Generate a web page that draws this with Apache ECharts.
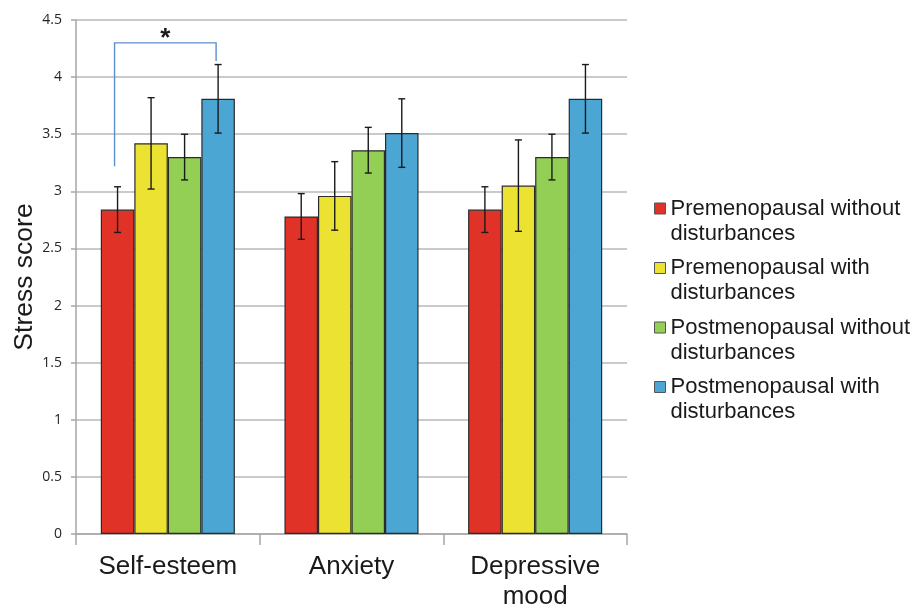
<!DOCTYPE html>
<html>
<head>
<meta charset="utf-8">
<script src="https://cdn.jsdelivr.net/npm/echarts@6/dist/echarts.min.js"></script>
<style>
html,body{margin:0;padding:0;background:#fff;}
#chart{width:921px;height:607px;}
</style>
</head>
<body>
<div id="chart"></div>
<script>
// ---- data ----
var categories = ['Self-esteem', 'Anxiety', 'Depressive\nmood'];
var seriesNames = [
  'Premenopausal without\ndisturbances',
  'Premenopausal with\ndisturbances',
  'Postmenopausal without\ndisturbances',
  'Postmenopausal with\ndisturbances'
];
var preWithout = [2.84, 2.78, 2.84];
var preWithoutErr = [0.20, 0.20, 0.20];
var preWith = [3.42, 2.96, 3.05];
var preWithErr = [0.40, 0.30, 0.40];
var postWithout = [3.30, 3.36, 3.30];
var postWithoutErr = [0.20, 0.20, 0.20];
var postWith = [3.81, 3.51, 3.81];
var postWithErr = [0.30, 0.30, 0.30];
var yTicks = [0, 0.5, 1, 1.5, 2, 2.5, 3, 3.5, 4, 4.5];
// significance bracket: category 0, from group 0 to group 3
var bracketCategory = 0;
var bracketGroups = [0, 3];
var bracketLevels = [3.22, 4.30, 4.14]; // left foot, top, right foot
var bracketLabel = '*';

var colors = ['#e03226', '#ebe232', '#93cf55', '#4ba6d4'];
var values = [preWithout, preWith, postWithout, postWith];
var errors = [preWithoutErr, preWithErr, postWithoutErr, postWithErr];

var FONT = '"Liberation Sans", Arial, sans-serif';
var CAT_GAP = 0.27;
function groupOffset(catWidth, g) {
  var bw = catWidth * (1 - CAT_GAP) / 4;
  return (g - 1.5) * bw;
}

var series = [];
for (var g = 0; g < 4; g++) {
  series.push({
    name: seriesNames[g],
    type: 'bar',
    data: values[g],
    barGap: '0%',
    barCategoryGap: (CAT_GAP * 100) + '%',
    itemStyle: { color: colors[g], borderColor: '#2b2b2b', borderWidth: 1.2 },
    z: 2
  });
}
for (var g2 = 0; g2 < 4; g2++) {
  (function (gi) {
    var d = values[gi].map(function (v, i) { return [i, v, errors[gi][i]]; });
    series.push({
      type: 'custom',
      data: d,
      z: 5,
      silent: true,
      renderItem: function (params, api) {
        var ci = api.value(0), v = api.value(1), e = api.value(2);
        var cw = api.size([1, 0])[0];
        var c = api.coord([ci, v]);
        var x = c[0] + groupOffset(cw, gi);
        var yt = api.coord([ci, v + e])[1];
        var yb = api.coord([ci, v - e])[1];
        var cap = 3.5;
        var st = { stroke: '#1a1a1a', lineWidth: 1.4 };
        return {
          type: 'group',
          children: [
            { type: 'line', shape: { x1: x, y1: yt, x2: x, y2: yb }, style: st },
            { type: 'line', shape: { x1: x - cap, y1: yt, x2: x + cap, y2: yt }, style: st },
            { type: 'line', shape: { x1: x - cap, y1: yb, x2: x + cap, y2: yb }, style: st }
          ]
        };
      }
    });
  })(g2);
}
// bracket
series.push({
  type: 'custom',
  data: [[bracketCategory, bracketLevels[1]]],
  z: 6,
  silent: true,
  renderItem: function (params, api) {
    var ci = api.value(0);
    var cw = api.size([1, 0])[0];
    var c = api.coord([ci, bracketLevels[1]]);
    var xl = c[0] + groupOffset(cw, bracketGroups[0]) - 3;
    var xr = c[0] + groupOffset(cw, bracketGroups[1]) - 2;
    var yl = api.coord([ci, bracketLevels[0]])[1];
    var yt = c[1];
    var yr = api.coord([ci, bracketLevels[2]])[1];
    return {
      type: 'group',
      children: [
        { type: 'polyline', shape: { points: [[xl, yl], [xl, yt], [xr, yt], [xr, yr]] },
          style: { stroke: '#5b8fd0', lineWidth: 1.4, fill: null } },
        { type: 'text', style: { text: bracketLabel, x: (xl + xr) / 2, y: yt + 9,
          align: 'center', verticalAlign: 'bottom', fill: '#1a1a1a',
          font: 'bold 26px ' + FONT } }
      ]
    };
  }
});

var chart = echarts.init(document.getElementById('chart'));
chart.setOption({
  backgroundColor: '#fff',
  animation: false,
  grid: { left: 76, right: 294, top: 20, bottom: 73, containLabel: false, outerBoundsMode: 'none' },
  legend: {
    orient: 'vertical',
    left: 649,
    top: 166,
    itemWidth: 11,
    itemHeight: 11,
    itemGap: -15.5,
    icon: 'rect',
    data: seriesNames,
    formatter: function (name) { return '\n' + name; },
    itemStyle: { borderColor: '#555', borderWidth: 1 },
    textStyle: { fontFamily: FONT, fontSize: 22, color: '#1a1a1a', lineHeight: 25 }
  },
  xAxis: {
    type: 'category',
    data: categories,
    axisLine: { lineStyle: { color: '#a6a6a6', width: 1.5 } },
    axisTick: { show: true, length: 11, lineStyle: { color: '#a6a6a6', width: 1.5 } },
    axisLabel: { fontFamily: FONT, fontSize: 26, color: '#1a1a1a', lineHeight: 30, margin: 18, interval: 0 }
  },
  yAxis: {
    type: 'value',
    min: yTicks[0],
    max: yTicks[yTicks.length - 1],
    interval: 0.5,
    name: 'Stress score',
    nameLocation: 'middle',
    nameGap: 38,
    nameMoveOverlap: false,
    nameTextStyle: { fontFamily: FONT, fontSize: 26.5, color: '#1a1a1a' },
    axisLine: { show: true, lineStyle: { color: '#a6a6a6', width: 1.5 } },
    axisTick: { show: true, length: 5, lineStyle: { color: '#a6a6a6', width: 1.5 } },
    axisLabel: { fontFamily: '"Open Sans", "DejaVu Sans", sans-serif', fontSize: 14, color: '#262626', margin: 14 },
    splitLine: { lineStyle: { color: '#b8b8b8', width: 1.5 } }
  },
  series: series
});
</script>
</body>
</html>
